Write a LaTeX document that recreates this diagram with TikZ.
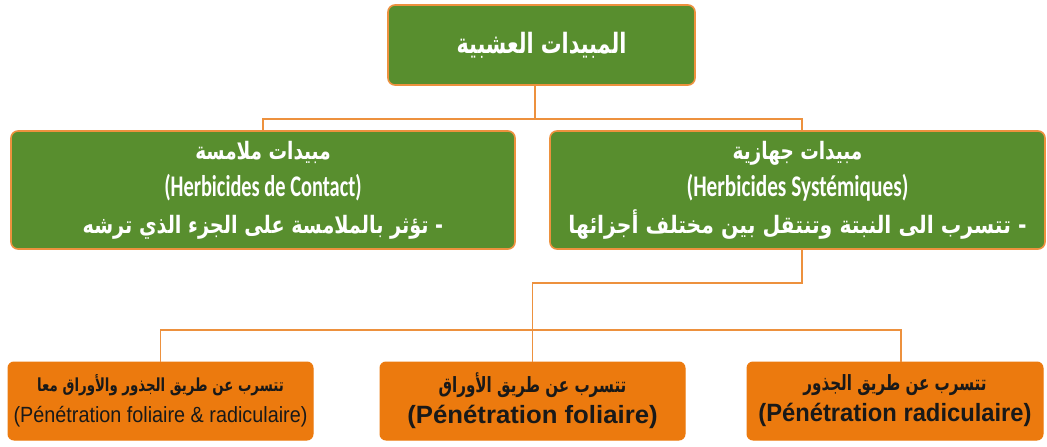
\documentclass[tikz,border=0pt]{standalone}
\usepackage{fontspec}
\usepackage{graphicx}
\setmainfont{Liberation Sans}
\newfontfamily\arabicfont[Script=Arabic]{DejaVu Sans}
\newfontfamily\calfont{Carlito}
\TeXXeTstate=1
\definecolor{herbgreen}{RGB}{88,142,46}
\definecolor{herborange}{RGB}{236,122,14}
\definecolor{lineorange}{RGB}{237,145,62}
\definecolor{darktext}{RGB}{25,25,25}
\newcommand{\ar}[2]{\scalebox{#1}[1]{\arabicfont\bfseries #2}}
\newcommand{\fr}[2]{\scalebox{#1}[1]{#2}}

\begin{document}
\begin{tikzpicture}[x=1pt,y=-1pt,
    gbox/.style={draw=lineorange, line width=1.6pt, fill=herbgreen, rounded corners=7pt,
      text=white, align=center, inner sep=0pt, font=\fontsize{20}{37}\selectfont},
    obox/.style={draw=herborange, line width=1pt, fill=herborange, rounded corners=6pt,
      text=darktext, align=center, inner sep=0pt, minimum height=78,
      font=\fontsize{20}{31}\selectfont},
    link/.style={draw=lineorange, line width=1.4pt}]
  \useasboundingbox (0,0) rectangle (1047,447);
  % top level
  \node[gbox, minimum width=307, minimum height=80] (root) at (541.5,45)
    {\fontsize{28}{37}\selectfont\ar{0.74}{\beginR المبيدات العشبية\endR}};
  % second level
  \node[gbox, minimum width=504, minimum height=118] (contact) at (263,190)
    {\fontsize{24}{38}\selectfont\ar{0.77}{\beginR مبيدات ملامسة\endR}\\
     \fontsize{30}{38}\selectfont\fr{0.68}{\calfont\bfseries (Herbicides de Contact)}\\
     \fontsize{24}{38}\selectfont\ar{0.8}{\beginR - تؤثر بالملامسة على الجزء الذي ترشه\endR}};
  \node[gbox, minimum width=495, minimum height=118] (syst) at (797.5,190)
    {\fontsize{24}{38}\selectfont\ar{0.77}{\beginR مبيدات جهازية\endR}\\
     \fontsize{30}{38}\selectfont\fr{0.71}{\calfont\bfseries (Herbicides Systémiques)}\\
     \fontsize{24}{38}\selectfont\ar{0.85}{\beginR - تتسرب الى النبتة وتنتقل بين مختلف أجزائها\endR}};
  % third level
  \node[obox, minimum width=305] (both) at (160.5,401)
    {\fontsize{18}{31}\selectfont\ar{0.74}{\beginR تتسرب عن طريق الجذور والأوراق معا\endR}\\
     \fontsize{22}{31}\selectfont\fr{0.9}{(Pénétration foliaire \& radiculaire)}};
  \node[obox, minimum width=305] (leaf) at (532.5,401)
    {\fontsize{21}{31}\selectfont\ar{0.72}{\beginR تتسرب عن طريق الأوراق\endR}\\
     \fontsize{25}{31}\selectfont\fr{1.03}{\bfseries (Pénétration foliaire)}};
  \node[obox, minimum width=296] (root2) at (895,401)
    {\fontsize{21}{31}\selectfont\ar{0.72}{\beginR تتسرب عن طريق الجذور\endR}\\
     \fontsize{25}{31}\selectfont\fr{0.95}{\bfseries (Pénétration radiculaire)}};
  % connectors
  \coordinate (j1) at (535,119);
  \coordinate (j2) at (802,283);
  \coordinate (j3) at (533,330);
  \draw[link] (root.south -| j1) -- (j1);
  \draw[link] (contact.north) |- (j1) -| (syst.north -| j2);
  \draw[link] (syst.south -| j2) -- (j2) -| (leaf.north);
  \draw[link] (both.north) |- (j3) -| ([xshift=6pt]root2.north);
\end{tikzpicture}
\end{document}
